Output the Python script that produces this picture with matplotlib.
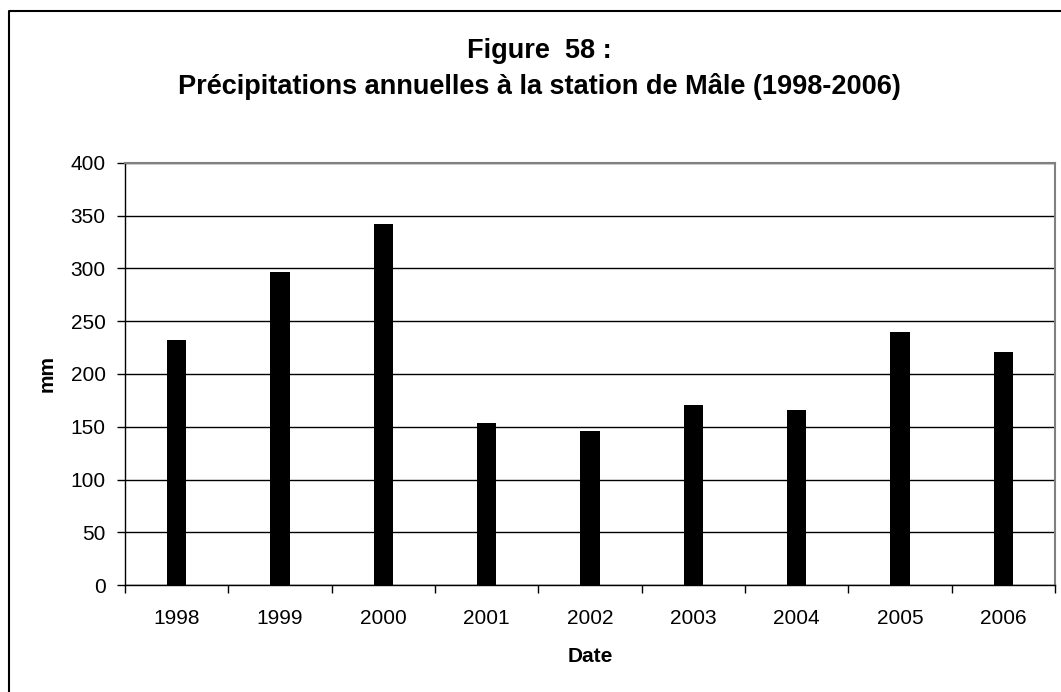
import numpy as np
import matplotlib
matplotlib.use("Agg")
import matplotlib.pyplot as plt
from matplotlib.lines import Line2D

years = ["1998", "1999", "2000", "2001", "2002", "2003", "2004", "2005", "2006"]
rain_mm = [232, 297, 342, 154, 146, 171, 166, 240, 221]
yticks = [0, 50, 100, 150, 200, 250, 300, 350, 400]

plt.rcParams['font.family'] = ['Liberation Sans', 'DejaVu Sans']

fig = plt.figure(figsize=(10.61, 6.92), dpi=100)
ax = fig.add_axes([0.1178, 0.1546, 0.8765, 0.6099])

x = np.arange(len(years))
ax.bar(x, rain_mm, width=0.185, color='black', zorder=3)

ax.set_xlim(-0.5, len(years) - 0.5)
ax.set_ylim(0, 400)
ax.set_yticks(yticks)
ax.set_yticklabels([str(v) for v in yticks], fontsize=15)
ax.set_xticks(x)
ax.set_xticklabels(years, fontsize=15)
ax.tick_params(axis='x', length=0, pad=17)
ax.set_xticks(np.arange(-0.5, len(years)), minor=True)
ax.tick_params(axis='x', which='minor', length=6, width=1, direction='out')
ax.tick_params(axis='y', length=6, width=1, direction='out', pad=8)

ax.grid(axis='y', color='black', linewidth=1, zorder=0)
ax.spines['top'].set_color('#808080')
ax.spines['right'].set_color('#808080')
ax.spines['top'].set_linewidth(1.5)
ax.spines['right'].set_linewidth(1.5)
ax.spines['left'].set_linewidth(1)
ax.spines['bottom'].set_linewidth(1)

ax.set_xlabel("Date", fontsize=15, fontweight='bold', labelpad=14)
ax.set_ylabel("mm", fontsize=15, fontweight='bold', labelpad=10)

fig.text(0.508, 0.9256, "Figure  58 :", ha='center', va='center', fontsize=19.5, fontweight='bold')
fig.text(0.508, 0.8757, "Précipitations annuelles à la station de Mâle (1998-2006)",
         ha='center', va='center', fontsize=19.5, fontweight='bold')

# chart border (only left and top edges fall inside the picture)
fig.add_artist(Line2D([0.0085, 0.0085, 1.0], [0.0, 0.984, 0.984],
                      transform=fig.transFigure, color='black', linewidth=1.5))

fig.savefig("out.png", dpi=100)
